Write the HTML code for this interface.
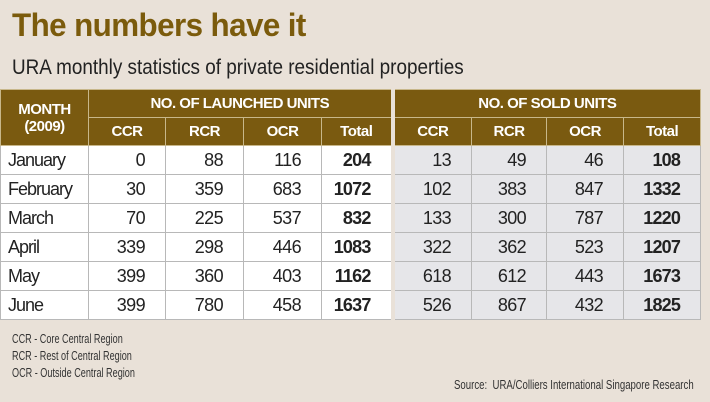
<!DOCTYPE html>
<html><head><meta charset="utf-8"><style>
body{margin:0;width:710px;height:402px;background:#e9e1d8;overflow:hidden;font-family:"Liberation Sans",sans-serif;position:relative}
.t{position:absolute;left:12px;top:7px;font-weight:bold;font-size:32px;color:#7b5b0c;letter-spacing:-0.6px;transform:scaleX(0.98);transform-origin:left}
.s{position:absolute;left:12px;top:56px;font-size:21px;color:#222;transform:scaleX(0.9);transform-origin:left;white-space:nowrap}
table{position:absolute;left:0;top:89px;border-collapse:collapse;width:700px;table-layout:fixed}
td,th{padding:0;font-size:18px;letter-spacing:-0.6px}
th{background:#7a5a10;color:#fff;font-weight:bold;font-size:15px;text-align:center;border:1px solid #c8b78a;letter-spacing:-0.5px}
td{height:28px;border:1px solid #b8b8b8;text-align:right;padding-right:20px;color:#222;background:#fff}
td.m{text-align:left;padding-left:7px;padding-right:0;letter-spacing:-1px}
td.g{background:#e6e6e9}
td.b{font-weight:bold;letter-spacing:-0.8px}
.gap{border-left:4px solid #e9e1d8}
.f{position:absolute;left:12px;font-size:13px;color:#333;transform:scaleX(0.7);transform-origin:left;white-space:nowrap}
</style></head><body>
<div class="t">The numbers have it</div>
<div class="s">URA monthly statistics of private residential properties</div>
<table>
<colgroup><col style="width:88px"><col style="width:77px"><col style="width:78px"><col style="width:78px"><col style="width:71px"><col style="width:79px"><col style="width:75px"><col style="width:77px"><col style="width:77px"></colgroup>
<tr style="height:28px"><th rowspan="2">MONTH<br>(2009)</th><th colspan="4">NO. OF LAUNCHED UNITS</th><th colspan="4" class="gap">NO. OF SOLD UNITS</th></tr>
<tr style="height:28px"><th>CCR</th><th>RCR</th><th>OCR</th><th>Total</th><th class="gap">CCR</th><th>RCR</th><th>OCR</th><th>Total</th></tr>
<tr><td class="m">January</td><td>0</td><td>88</td><td>116</td><td class="b">204</td><td class="g gap">13</td><td class="g">49</td><td class="g">46</td><td class="g b">108</td></tr>
<tr><td class="m">February</td><td>30</td><td>359</td><td>683</td><td class="b">1072</td><td class="g gap">102</td><td class="g">383</td><td class="g">847</td><td class="g b">1332</td></tr>
<tr><td class="m">March</td><td>70</td><td>225</td><td>537</td><td class="b">832</td><td class="g gap">133</td><td class="g">300</td><td class="g">787</td><td class="g b">1220</td></tr>
<tr><td class="m">April</td><td>339</td><td>298</td><td>446</td><td class="b">1083</td><td class="g gap">322</td><td class="g">362</td><td class="g">523</td><td class="g b">1207</td></tr>
<tr><td class="m">May</td><td>399</td><td>360</td><td>403</td><td class="b">1162</td><td class="g gap">618</td><td class="g">612</td><td class="g">443</td><td class="g b">1673</td></tr>
<tr><td class="m">June</td><td>399</td><td>780</td><td>458</td><td class="b">1637</td><td class="g gap">526</td><td class="g">867</td><td class="g">432</td><td class="g b">1825</td></tr>
</table>
<div class="f" style="top:331px">CCR - Core Central Region</div>
<div class="f" style="top:348px">RCR - Rest of Central Region</div>
<div class="f" style="top:365px">OCR - Outside Central Region</div>
<div class="f" style="top:378px;left:454px;font-size:12.5px;transform:scaleX(0.77)">Source:&nbsp; URA/Colliers International Singapore Research</div>
</body></html>
